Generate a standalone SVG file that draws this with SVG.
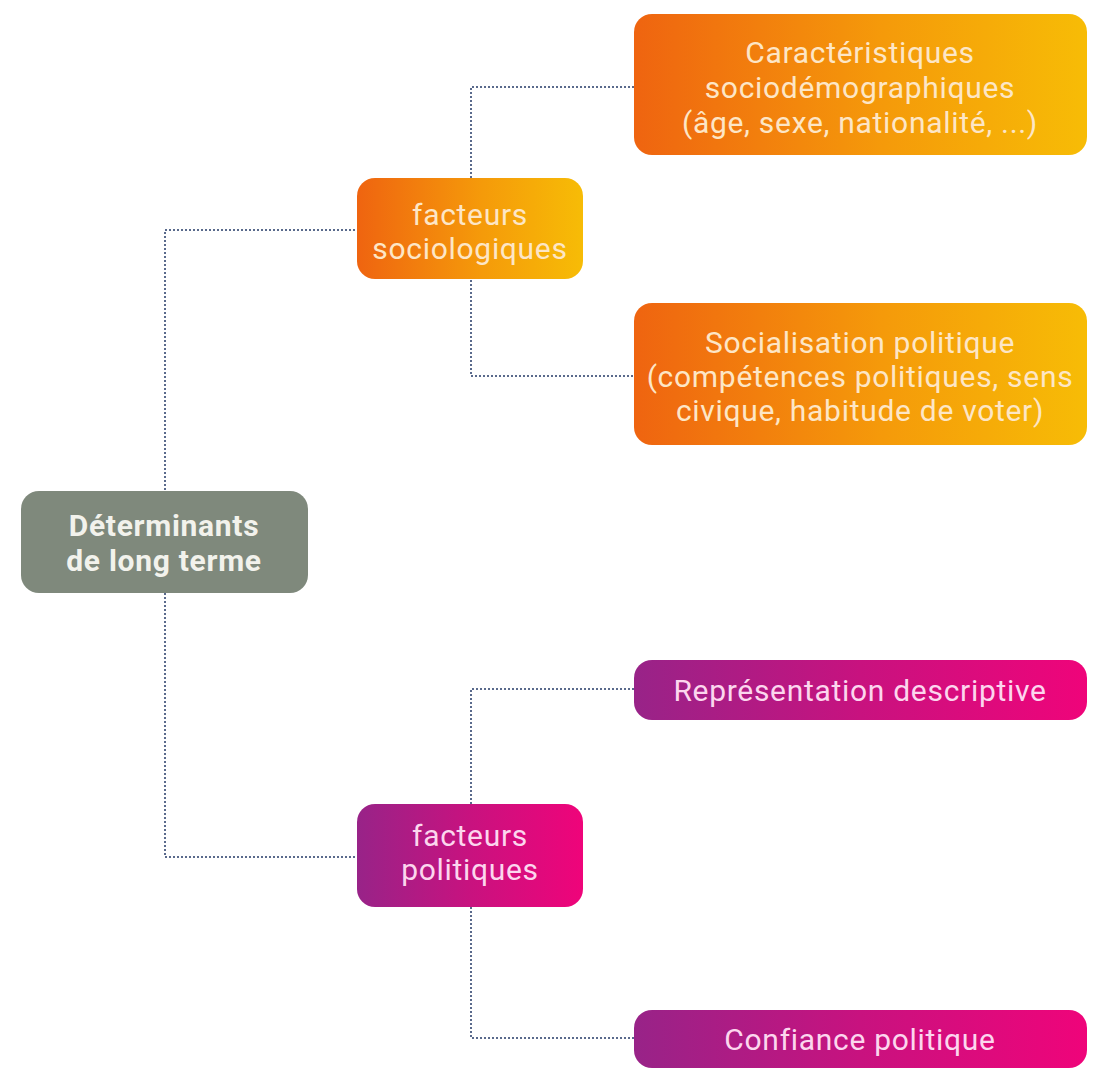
<svg xmlns="http://www.w3.org/2000/svg" width="1102" height="1074" viewBox="0 0 1102 1074">
<defs>
<linearGradient id="gOr" x1="0" y1="0" x2="1" y2="0">
<stop offset="0" stop-color="#ef6410"/>
<stop offset="0.55" stop-color="#f59a0a"/>
<stop offset="1" stop-color="#f7bc06"/>
</linearGradient>
<linearGradient id="gMa" x1="0" y1="0" x2="1" y2="0">
<stop offset="0" stop-color="#982388"/>
<stop offset="0.5" stop-color="#c8127f"/>
<stop offset="1" stop-color="#ef047a"/>
</linearGradient>
<style>
.t{font-family:Roboto,"Liberation Sans",sans-serif;font-size:30px;letter-spacing:0.7px;text-anchor:middle}
.to{fill:#fde6c6}
.tm{fill:#fcd6ee}
.tr{fill:#f2f2ec;font-weight:bold}
.c{fill:none;stroke:#5a6a8c;stroke-width:2;stroke-dasharray:2 2}
</style>
</defs>
<rect width="1102" height="1074" fill="#ffffff"/>
<g id="connectors">
<path class="c" d="M165 490V230H357"/>
<path class="c" d="M165 593V857H357"/>
<path class="c" d="M471 178V87H634"/>
<path class="c" d="M471 280V376H634"/>
<path class="c" d="M471 804V689H634"/>
<path class="c" d="M471 907V1038H634"/>
</g>
<g id="root">
<rect x="21" y="491" width="287" height="102" rx="18" fill="#7f897c"/>
<text class="t tr" x="164" y="536">Déterminants</text>
<text class="t tr" x="164" y="571">de long terme</text>
</g>
<g id="socio">
<rect x="357" y="178" width="226" height="101" rx="18" fill="url(#gOr)"/>
<text class="t to" x="470" y="225">facteurs</text>
<text class="t to" x="470" y="259">sociologiques</text>
</g>
<g id="caract">
<rect x="634" y="14" width="453" height="141" rx="18" fill="url(#gOr)"/>
<text class="t to" x="860" y="63">Caractéristiques</text>
<text class="t to" x="860" y="98">sociodémographiques</text>
<text class="t to" x="860" y="133">(âge, sexe, nationalité, ...)</text>
</g>
<g id="social">
<rect x="634" y="303" width="453" height="142" rx="18" fill="url(#gOr)"/>
<text class="t to" x="860" y="353">Socialisation politique</text>
<text class="t to" x="860" y="387">(compétences politiques, sens</text>
<text class="t to" x="860" y="421">civique, habitude de voter)</text>
</g>
<g id="poli">
<rect x="357" y="804" width="226" height="103" rx="18" fill="url(#gMa)"/>
<text class="t tm" x="470" y="846">facteurs</text>
<text class="t tm" x="470" y="880">politiques</text>
</g>
<g id="repr">
<rect x="634" y="660" width="453" height="60" rx="18" fill="url(#gMa)"/>
<text class="t tm" x="860" y="701">Représentation descriptive</text>
</g>
<g id="conf">
<rect x="634" y="1010" width="453" height="58" rx="18" fill="url(#gMa)"/>
<text class="t tm" x="860" y="1050">Confiance politique</text>
</g>
</svg>
